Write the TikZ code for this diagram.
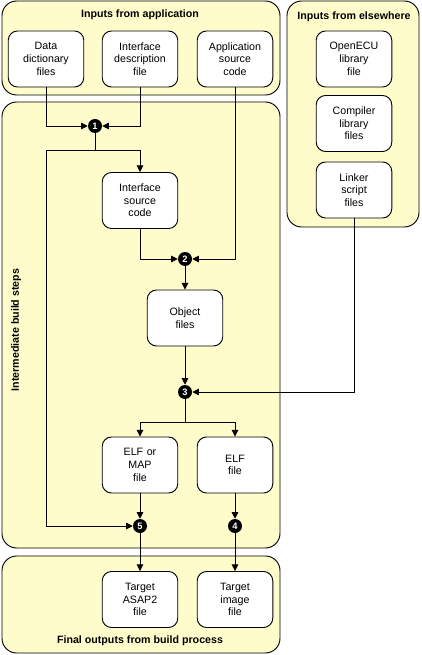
\documentclass[tikz,border=0pt]{standalone}
\usepackage{fontspec}
\setmainfont{Liberation Sans}
\usetikzlibrary{shapes,backgrounds,arrows.meta,positioning}
\pgfdeclarelayer{background}
\pgfsetlayers{background,main}
\tikzstyle{filebox} = [draw, fill=white, text centered, text width=50pt, minimum width=56pt, minimum height=42pt, rounded corners=7pt, line width=0.7pt, font=\fontsize{8}{9.5}\selectfont]
\tikzstyle{stepnum} = [circle, fill=black, text=white, inner sep=0pt, minimum size=10.5pt, font=\fontsize{7}{7}\selectfont\bfseries]
\tikzstyle{grouptitle} = [font=\fontsize{8}{9.5}\selectfont\bfseries]
\tikzstyle{group} = [draw, line width=0.7pt, fill=yellow!20, rounded corners=11pt]
\tikzstyle{arrow} = [draw, line width=0.7pt, -{Triangle[length=5pt,width=5pt]}]
\tikzstyle{line} = [draw, line width=0.7pt]
\newcommand{\filebox}[2]{node (f#1) [filebox] {#2}}
\newcommand{\stepnum}[2]{node (s#1) [stepnum] {#2}}
\newcommand{\groupboxes}{%
\begin{pgfonlayer}{background}
\path (2,1) coordinate (a1);
\path (280,95) coordinate (a2);
\path [group] (a1) rectangle (a2);
\path (287,1) coordinate (a3);
\path (419,227) coordinate (a4);
\path [group] (a3) rectangle (a4);
\path (2,102) coordinate (a5);
\path (280,548) coordinate (a6);
\path [group] (a5) rectangle (a6);
\path (2,556) coordinate (a7);
\path (280,653) coordinate (a8);
\path [group] (a7) rectangle (a8);
\end{pgfonlayer}}
\begin{document}
\begin{tikzpicture}[x=0.75pt,y=-0.75pt]
\useasboundingbox (0,0) rectangle (421,655);
\path (46,59) \filebox{1}{Data\\dictionary\\files};
\path (f1)+(94,0) \filebox{2}{Interface\\description\\file};
\path (f2)+(95,0) \filebox{3}{Application\\source\\code};
\path (f3)+(119,0) \filebox{4}{OpenECU\\library\\file};
\path (f4)+(0,64.5) \filebox{5}{Compiler\\library\\files};
\path (f5)+(0,66.5) \filebox{6}{Linker\\script\\files};
\path (f2)+(0,141.5) \filebox{7}{Interface\\source\\code};
\path (f7)+(45,117.5) \filebox{8}{Object\\files};
\path (f7)+(0,264.5) \filebox{9}{ELF or\\MAP\\file};
\path (f9)+(95,0) \filebox{10}{ELF\\file};
\path (f9)+(0,134.5) \filebox{11}{Target\\ASAP2\\file};
\path (f10)+(0,134.5) \filebox{12}{Target\\image\\file};

\path (95,126) \stepnum{1}{1};
\path (f8)+(0,-59) \stepnum{2}{2};
\path (f8)+(0,74) \stepnum{3}{3};
\path (f9)+(0,61) \stepnum{5}{5};
\path (f10)+(0,61) \stepnum{4}{4};
\path (s1)+(0,24) coordinate (b1);
\path (s3)+(0,30) coordinate (b3);

\path [arrow] (f1.south) |- (s1.west);
\path [arrow] (f2.south) |- (s1.east);
\path [line] (s1.south) -- (b1);
\path [arrow] (b1) -| (f7.north);
\path [arrow] (b1) -| (f1 |- s5) -- (s5.west);
\path [arrow] (f3.south) |- (s2.east);
\path [arrow] (f7.south) |- (s2.west);
\path [arrow] (s2.south) -- (f8.north);
\path [arrow] (f8.south) -- (s3.north);
\path [arrow] (f6.south) |- (s3.east);
\path [line] (s3.south) -- (b3);
\path [arrow] (b3) -| (f9.north);
\path [arrow] (b3) -| (f10.north);
\path [arrow] (f9.south) -- (s5.north);
\path [arrow] (f10.south) -- (s4.north);
\path [arrow] (s5.south) -- (f11.north);
\path [arrow] (s4.south) -- (f12.north);

\path (140,15) node (t1) [grouptitle] {Inputs from application};
\path (354,17) node (t2) [grouptitle] {Inputs from elsewhere};
\path (16,330) node (t3) [grouptitle, rotate=90] {Intermediate build steps};
\path (140,641) node (t4) [grouptitle] {Final outputs from build process};

\groupboxes{}
\end{tikzpicture}
\end{document}
